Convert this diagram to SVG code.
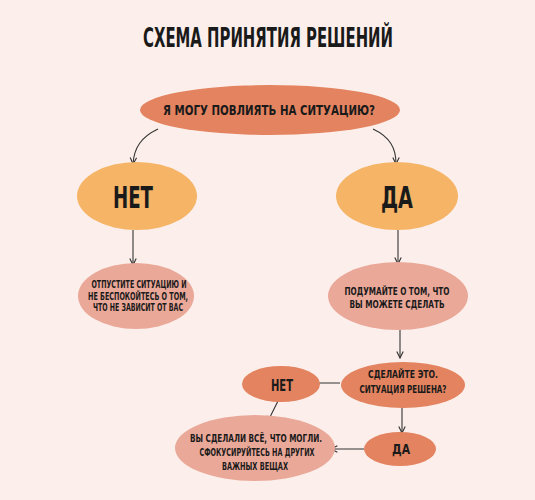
<svg xmlns="http://www.w3.org/2000/svg" width="535" height="500" viewBox="0 0 535 500">
<defs>
<style>
text{font-family:"DejaVu Sans Condensed","DejaVu Sans",sans-serif;font-weight:bold;fill:#1a1a1a;text-anchor:middle}
.dec{fill:#e3835f}
.ans{fill:#f5b466}
.act{fill:#eaa899}
.c{fill:none;stroke:#333;stroke-width:1.1}
</style>
<marker id="ah" viewBox="0 0 10 10" refX="9" refY="5" markerWidth="8" markerHeight="8" orient="auto" markerUnits="userSpaceOnUse">
<path d="M1,1 L9,5 L1,9" fill="none" stroke="#333" stroke-width="1.4"/>
</marker>
</defs>
<rect width="535" height="500" fill="#fcefeb"/>
<text x="268" y="47" font-size="26" textLength="250" lengthAdjust="spacingAndGlyphs">СХЕМА ПРИНЯТИЯ РЕШЕНИЙ</text>
<g id="connectors">
<path class="c" d="M158,129 C141,137 134,148 133,164" marker-end="url(#ah)"/>
<path class="c" d="M373,129 C390,137 396,148 396,164" marker-end="url(#ah)"/>
<path class="c" d="M133,230 L133,265" marker-end="url(#ah)"/>
<path class="c" d="M398,230 L398,264" marker-end="url(#ah)"/>
<path class="c" d="M400,330 L400,358" marker-end="url(#ah)"/>
<path class="c" d="M340,383 L306,383" marker-end="url(#ah)"/>
<path class="c" d="M278,401 L267,423" marker-end="url(#ah)"/>
<path class="c" d="M402,408 L402,433" marker-end="url(#ah)"/>
<path class="c" d="M364,449 L331,449" marker-end="url(#ah)"/>
</g>
<g id="q1">
<ellipse class="dec" cx="270" cy="110" rx="130" ry="25"/>
<text x="269" y="115" font-size="14" textLength="212" lengthAdjust="spacingAndGlyphs">Я МОГУ ПОВЛИЯТЬ НА СИТУАЦИЮ?</text>
</g>
<g id="no1">
<ellipse class="ans" cx="137" cy="196" rx="60" ry="34"/>
<text x="133" y="208" font-size="30" textLength="40" lengthAdjust="spacingAndGlyphs">НЕТ</text>
</g>
<g id="yes1">
<ellipse class="ans" cx="397" cy="196" rx="61" ry="34"/>
<text x="397" y="208" font-size="30" textLength="32" lengthAdjust="spacingAndGlyphs">ДА</text>
</g>
<g id="letgo">
<ellipse class="act" cx="136" cy="296" rx="58" ry="33"/>
<text x="139" y="288" font-size="10.5" textLength="95" lengthAdjust="spacingAndGlyphs">ОТПУСТИТЕ СИТУАЦИЮ И</text>
<text x="138" y="299.5" font-size="10.5" textLength="100" lengthAdjust="spacingAndGlyphs">НЕ БЕСПОКОЙТЕСЬ О ТОМ,</text>
<text x="138" y="311" font-size="10.5" textLength="90" lengthAdjust="spacingAndGlyphs">ЧТО НЕ ЗАВИСИТ ОТ ВАС</text>
</g>
<g id="think">
<ellipse class="act" cx="398" cy="296" rx="70" ry="34"/>
<text x="397" y="295" font-size="10.5" textLength="105" lengthAdjust="spacingAndGlyphs">ПОДУМАЙТЕ О ТОМ, ЧТО</text>
<text x="397" y="308" font-size="10.5" textLength="95" lengthAdjust="spacingAndGlyphs">ВЫ МОЖЕТЕ СДЕЛАТЬ</text>
</g>
<g id="q2">
<ellipse class="dec" cx="403" cy="385" rx="62" ry="23"/>
<text x="403" y="378" font-size="10.5" textLength="70" lengthAdjust="spacingAndGlyphs">СДЕЛАЙТЕ ЭТО.</text>
<text x="403" y="393" font-size="10.5" textLength="87" lengthAdjust="spacingAndGlyphs">СИТУАЦИЯ РЕШЕНА?</text>
</g>
<g id="no2">
<ellipse class="dec" cx="281" cy="384" rx="39" ry="18"/>
<text x="282" y="391" font-size="16" textLength="22" lengthAdjust="spacingAndGlyphs">НЕТ</text>
</g>
<g id="yes2">
<ellipse class="dec" cx="400" cy="449" rx="36" ry="17"/>
<text x="401" y="454" font-size="14" textLength="18" lengthAdjust="spacingAndGlyphs">ДА</text>
</g>
<g id="done">
<ellipse class="act" cx="255" cy="448" rx="80" ry="33"/>
<text x="256" y="442" font-size="10.5" textLength="132" lengthAdjust="spacingAndGlyphs">ВЫ СДЕЛАЛИ ВСЁ, ЧТО МОГЛИ.</text>
<text x="257" y="456" font-size="10.5" textLength="115" lengthAdjust="spacingAndGlyphs">СФОКУСИРУЙТЕСЬ НА ДРУГИХ</text>
<text x="255" y="470" font-size="10.5" textLength="66" lengthAdjust="spacingAndGlyphs">ВАЖНЫХ ВЕЩАХ</text>
</g>
</svg>
